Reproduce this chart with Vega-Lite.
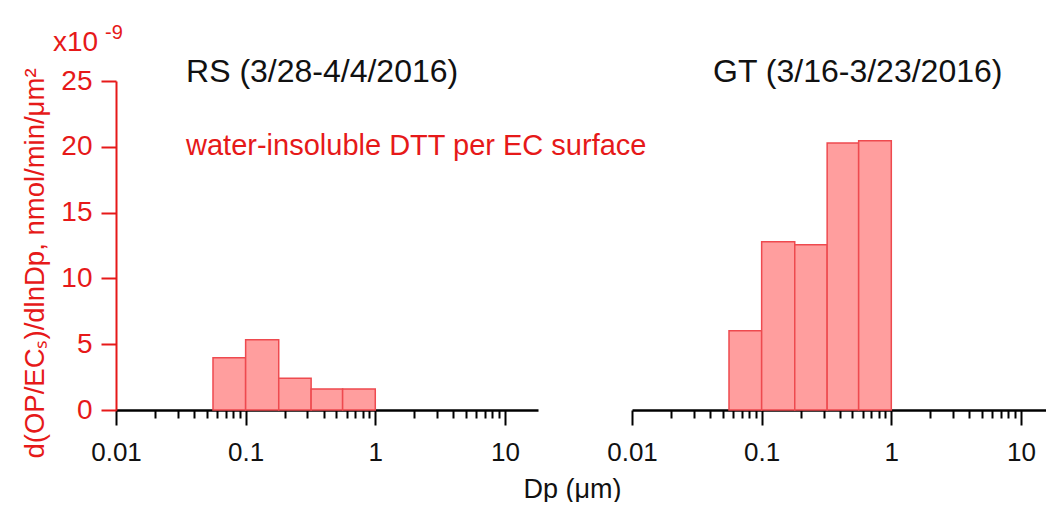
{
  "$schema": "https://vega.github.io/schema/vega-lite/v6.json",
  "background": "white",
  "padding": {"left": 20, "top": 22, "right": 0, "bottom": 0},
  "bounds": "flush",
  "spacing": 94,
  "config": {
    "view": {"stroke": null},
    "font": "Liberation Sans",
    "axis": {"grid": false, "labelFont": "Liberation Sans", "titleFont": "Liberation Sans", "titleFontWeight": "normal", "labelFlush": false}
  },
  "datasets": {
    "bins": [
      {"site": "RS", "lo": 0.056, "hi": 0.1, "value": 3.97},
      {"site": "RS", "lo": 0.1, "hi": 0.18, "value": 5.34},
      {"site": "RS", "lo": 0.18, "hi": 0.32, "value": 2.41},
      {"site": "RS", "lo": 0.32, "hi": 0.56, "value": 1.6},
      {"site": "RS", "lo": 0.56, "hi": 1.0, "value": 1.6},
      {"site": "GT", "lo": 0.056, "hi": 0.1, "value": 6.03},
      {"site": "GT", "lo": 0.1, "hi": 0.18, "value": 12.79},
      {"site": "GT", "lo": 0.18, "hi": 0.32, "value": 12.56},
      {"site": "GT", "lo": 0.32, "hi": 0.56, "value": 20.29},
      {"site": "GT", "lo": 0.56, "hi": 1.0, "value": 20.46}
    ],
    "one": [{"k": 1}]
  },
  "hconcat": [
    {
      "width": 422,
      "height": 329,
      "layer": [
        {
          "data": {"name": "bins"},
          "transform": [{"filter": "datum.site == 'RS'"}],
          "mark": {"type": "bar", "fill": "#ff9e9e", "stroke": "#ee4a4f", "strokeWidth": 1.5},
          "encoding": {
            "x": {
              "field": "lo", "type": "quantitative",
              "scale": {"type": "log", "domain": [0.01, 18], "nice": false},
              "axis": {
                "values": [0.01,0.02,0.03,0.04,0.05,0.06,0.07,0.08,0.09,0.1,0.2,0.3,0.4,0.5,0.6,0.7,0.8,0.9,1,2,3,4,5,6,7,8,9,10],
                "labelExpr": "datum.value == 0.01 ? '0.01' : datum.value == 0.1 ? '0.1' : datum.value == 1 ? '1' : datum.value == 10 ? '10' : ''",
                "labelOverlap": false,
                "labelFlush": false,
                "labelFontSize": 26,
                "labelColor": "#111111",
                "labelPadding": 14,
                "domainColor": "#000000",
                "domainWidth": 2.5,
                "tickColor": "#000000",
                "tickWidth": 2,
                "tickSize": {"condition": {"test": "datum.value == 0.01 || datum.value == 0.1 || datum.value == 1 || datum.value == 10", "value": 15}, "value": 8},
                "title": "Dp (μm)",
                "titleFontSize": 27,
                "titleColor": "#111111",
                "titleX": 456,
                "titleY": 87,
                "titleBaseline": "alphabetic",
                "titleAlign": "center"
              }
            },
            "x2": {"field": "hi"},
            "y": {
              "field": "value", "type": "quantitative",
              "scale": {"domain": [0, 25], "nice": false},
              "axis": {
                "values": [0, 5, 10, 15, 20, 25],
                "labelFontSize": 28,
                "labelColor": "#e61919",
                "labelPadding": 9,
                "domainColor": "#e61919",
                "domainWidth": 2,
                "tickColor": "#e61919",
                "tickWidth": 2,
                "tickSize": 15,
                "title": "d(OP/ECₛ)/dlnDp, nmol/min/μm²",
                "titleFontSize": 27.5,
                "titleColor": "#e61919",
                "titleAngle": 270,
                "titleAlign": "center",
                "titleBaseline": "alphabetic",
                "titleX": -73,
                "titleY": 182
              }
            },
            "y2": {"datum": 0}
          }
        },
        {
          "data": {"name": "one"},
          "mark": {"type": "text", "text": "RS (3/28-4/4/2016)", "font": "Liberation Sans", "fontSize": 32, "fill": "#111111", "align": "left", "baseline": "alphabetic"},
          "encoding": {"x": {"datum": 0.0347}, "y": {"datum": 24.9}}
        },
        {
          "data": {"name": "one"},
          "mark": {"type": "text", "text": "water-insoluble DTT per EC surface", "font": "Liberation Sans", "fontSize": 29, "fill": "#e61919", "align": "left", "baseline": "alphabetic"},
          "encoding": {"x": {"datum": 0.0347}, "y": {"datum": 19.4}}
        },
        {
          "data": {"name": "one"},
          "mark": {"type": "text", "text": "x10", "font": "Liberation Sans", "fontSize": 28, "fill": "#e61919", "align": "left", "baseline": "alphabetic", "dx": -63},
          "encoding": {"x": {"datum": 0.01}, "y": {"datum": 27.3}}
        },
        {
          "data": {"name": "one"},
          "mark": {"type": "text", "text": "-9", "font": "Liberation Sans", "fontSize": 20, "fill": "#e61919", "align": "left", "baseline": "alphabetic", "dx": -11},
          "encoding": {"x": {"datum": 0.01}, "y": {"datum": 28.2}}
        }
      ]
    },
    {
      "width": 414,
      "height": 329,
      "layer": [
        {
          "data": {"name": "bins"},
          "transform": [{"filter": "datum.site == 'GT'"}],
          "mark": {"type": "bar", "fill": "#ff9e9e", "stroke": "#ee4a4f", "strokeWidth": 1.5},
          "encoding": {
            "x": {
              "field": "lo", "type": "quantitative",
              "scale": {"type": "log", "domain": [0.01, 15.6], "nice": false},
              "axis": {
                "values": [0.01,0.02,0.03,0.04,0.05,0.06,0.07,0.08,0.09,0.1,0.2,0.3,0.4,0.5,0.6,0.7,0.8,0.9,1,2,3,4,5,6,7,8,9,10],
                "labelExpr": "datum.value == 0.01 ? '0.01' : datum.value == 0.1 ? '0.1' : datum.value == 1 ? '1' : datum.value == 10 ? '10' : ''",
                "labelOverlap": false,
                "labelFlush": false,
                "labelFontSize": 26,
                "labelColor": "#111111",
                "labelPadding": 14,
                "domainColor": "#000000",
                "domainWidth": 2.5,
                "tickColor": "#000000",
                "tickWidth": 2,
                "tickSize": {"condition": {"test": "datum.value == 0.01 || datum.value == 0.1 || datum.value == 1 || datum.value == 10", "value": 15}, "value": 8},
                "title": null
              }
            },
            "x2": {"field": "hi"},
            "y": {
              "field": "value", "type": "quantitative",
              "scale": {"domain": [0, 25], "nice": false},
              "axis": null
            },
            "y2": {"datum": 0}
          }
        },
        {
          "data": {"name": "one"},
          "mark": {"type": "text", "text": "GT (3/16-3/23/2016)", "font": "Liberation Sans", "fontSize": 32, "fill": "#111111", "align": "left", "baseline": "alphabetic"},
          "encoding": {"x": {"datum": 0.0422}, "y": {"datum": 24.9}}
        }
      ]
    }
  ]
}
